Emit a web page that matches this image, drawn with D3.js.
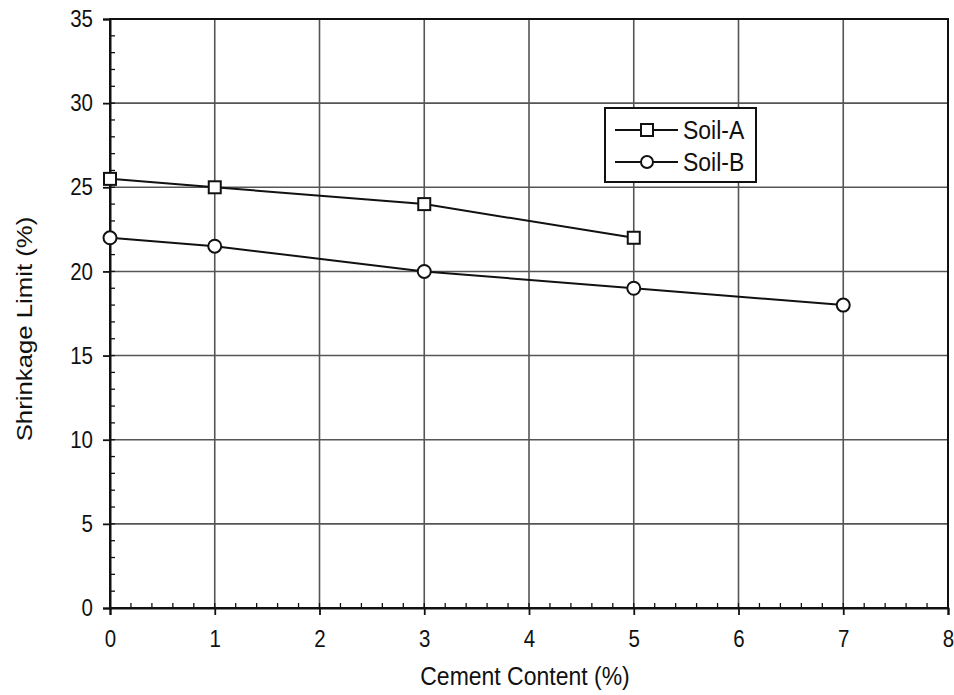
<!DOCTYPE html>
<html>
<head>
<meta charset="utf-8">
<script src="https://cdn.jsdelivr.net/npm/d3@7"></script>
<style>
  body { margin: 0; background: #fff; }
  svg text { font-family: "Liberation Sans", Arial, sans-serif; fill: #111; }
  /* the scanned figure is stretched a bit vertically */
  svg text.tall { transform-box: fill-box; transform-origin: center; transform: scaleY(1.15); }
</style>
</head>
<body>
<svg width="954" height="695"></svg>
<script>
// data
var cement = [0, 1, 3, 5, 7];
var soilA = [25.5, 25, 24, 22];
var soilB = [22, 21.5, 20, 19, 18];
var xTicks = [0, 1, 2, 3, 4, 5, 6, 7, 8];
var yTicks = [0, 5, 10, 15, 20, 25, 30, 35];

var svg = d3.select("svg"),
    margin = {top: 19, right: 6, bottom: 87, left: 110},
    width = 954 - margin.left - margin.right,
    height = 695 - margin.top - margin.bottom,
    g = svg.append("g").attr("transform", "translate(" + margin.left + "," + margin.top + ")");

var x = d3.scaleLinear().domain([0, 8]).range([0, width]);
var y = d3.scaleLinear().domain([0, 35]).range([height, 0]);

// grid
g.append("g").selectAll("line")
    .data(xTicks)
    .join("line")
    .attr("x1", d => x(d)).attr("x2", d => x(d))
    .attr("y1", 0).attr("y2", height)
    .attr("stroke", "#555").attr("stroke-width", 1.6);
g.append("g").selectAll("line")
    .data(yTicks)
    .join("line")
    .attr("x1", 0).attr("x2", width)
    .attr("y1", d => y(d)).attr("y2", d => y(d))
    .attr("stroke", "#555").attr("stroke-width", 1.6);

// minor ticks (inside)
g.append("g").selectAll("line")
    .data(d3.range(0, 8.001, 0.2))
    .join("line")
    .attr("x1", d => x(d)).attr("x2", d => x(d))
    .attr("y1", height).attr("y2", height - 5)
    .attr("stroke", "#111").attr("stroke-width", 1.3);
g.append("g").selectAll("line")
    .data(d3.range(0, 35.001, 1))
    .join("line")
    .attr("x1", 0).attr("x2", 5)
    .attr("y1", d => y(d)).attr("y2", d => y(d))
    .attr("stroke", "#111").attr("stroke-width", 1.3);

// axes
var xAxis = g.append("g")
    .attr("transform", "translate(0," + height + ")")
    .call(d3.axisBottom(x).tickValues(xTicks).tickSize(7).tickPadding(16));
var yAxis = g.append("g")
    .call(d3.axisLeft(y).tickValues(yTicks).tickSize(7).tickPadding(10));
[xAxis, yAxis].forEach(function(a) {
    a.select(".domain").attr("stroke", "#111").attr("stroke-width", 2);
    a.selectAll(".tick line").attr("stroke", "#111").attr("stroke-width", 1.8);
    a.selectAll(".tick text").attr("class", "tall").attr("font-size", 20.5).attr("fill", "#111");
});

// frame
g.append("rect")
    .attr("width", width).attr("height", height)
    .attr("fill", "none").attr("stroke", "#111").attr("stroke-width", 2);

// axis titles
svg.append("text")
    .attr("class", "tall")
    .attr("x", 525).attr("y", 684)
    .attr("text-anchor", "middle").attr("font-size", 23)
    .text("Cement Content (%)");
svg.append("text")
    .attr("transform", "translate(32,329) rotate(-90) scale(1.12,1)")
    .attr("text-anchor", "middle").attr("font-size", 23)
    .text("Shrinkage Limit (%)");

var line = d3.line().x(d => x(d[0])).y(d => y(d[1]));
var dataA = soilA.map((v, i) => [cement[i], v]);
var dataB = soilB.map((v, i) => [cement[i], v]);

g.append("path").datum(dataA).attr("d", line)
    .attr("fill", "none").attr("stroke", "#111").attr("stroke-width", 2);
g.append("path").datum(dataB).attr("d", line)
    .attr("fill", "none").attr("stroke", "#111").attr("stroke-width", 2);

g.selectAll(".ptA").data(dataA).join("rect")
    .attr("class", "ptA")
    .attr("x", d => x(d[0]) - 6).attr("y", d => y(d[1]) - 6)
    .attr("width", 12).attr("height", 12)
    .attr("fill", "#fff").attr("stroke", "#111").attr("stroke-width", 2);
g.selectAll(".ptB").data(dataB).join("circle")
    .attr("class", "ptB")
    .attr("cx", d => x(d[0])).attr("cy", d => y(d[1])).attr("r", 6.5)
    .attr("fill", "#fff").attr("stroke", "#111").attr("stroke-width", 2);

// legend
var lg = svg.append("g").attr("transform", "translate(605,108)");
lg.append("rect").attr("width", 151).attr("height", 74)
    .attr("fill", "#fff").attr("stroke", "#111").attr("stroke-width", 2);
var items = [{name: "Soil-A", shape: "square"}, {name: "Soil-B", shape: "circle"}];
items.forEach(function(it, i) {
    var yy = 22 + i * 32;
    lg.append("line").attr("x1", 10).attr("x2", 73).attr("y1", yy).attr("y2", yy)
        .attr("stroke", "#111").attr("stroke-width", 2);
    if (it.shape === "square") {
        lg.append("rect").attr("x", 36).attr("y", yy - 6).attr("width", 12).attr("height", 12)
            .attr("fill", "#fff").attr("stroke", "#111").attr("stroke-width", 2);
    } else {
        lg.append("circle").attr("cx", 42).attr("cy", yy).attr("r", 6)
            .attr("fill", "#fff").attr("stroke", "#111").attr("stroke-width", 2);
    }
    lg.append("text").attr("class", "tall").attr("x", 78).attr("y", yy + 8)
        .attr("font-size", 23).text(it.name);
});
</script>
</body>
</html>
